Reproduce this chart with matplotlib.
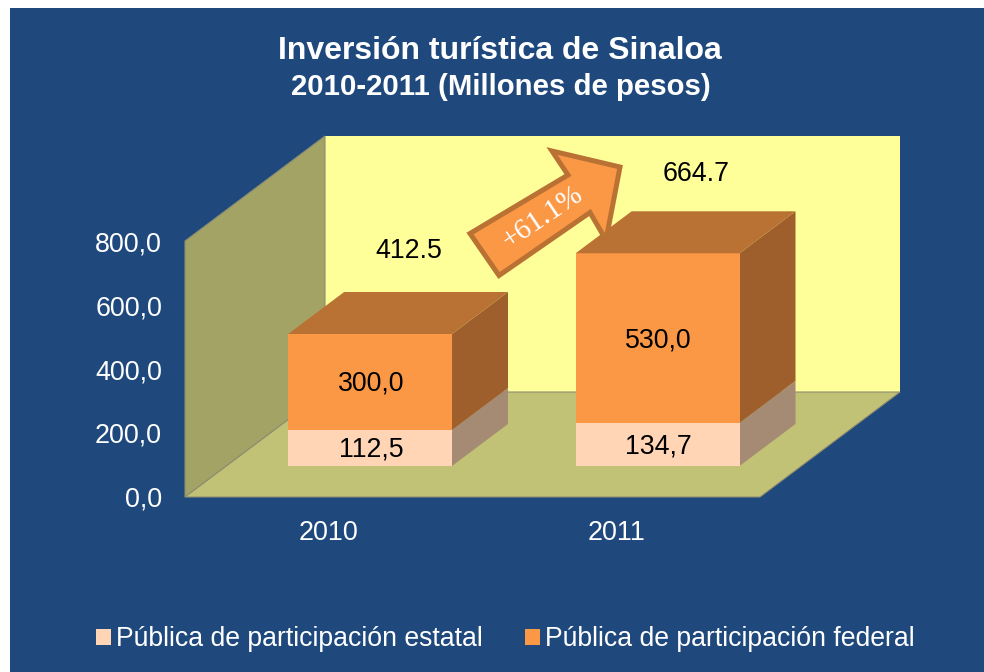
import matplotlib
matplotlib.use("Agg")
import matplotlib.pyplot as plt
from matplotlib.patches import Patch, Polygon, Rectangle
from matplotlib.transforms import Affine2D

years = ["2010", "2011"]
estatal = [112.5, 134.7]
federal = [300.0, 530.0]
totales = ["412.5", "664.7"]
yticks = [0, 200, 400, 600, 800]
series_names = ["Pública de participación estatal", "Pública de participación federal"]

W, H = 984, 672
plt.rcParams['font.family'] = ['Liberation Sans', 'DejaVu Sans']

BLUE = "#1F497D"
LIGHT = ("#FFD5B6", "#A58B73")
ORANGE = ("#FB9846", "#9F5F2D")
TOP = "#B97233"

fig = plt.figure(figsize=(W / 100, H / 100), dpi=100, facecolor="white")
px = Affine2D().scale(1 / W, -1 / H).translate(0, 1) + fig.transFigure

fig.add_artist(Rectangle((10, 8), W - 10, H - 8, transform=px, fc=BLUE, ec="none", zorder=-1))

# front plane of the 3d box: x 185-760, y 497-241 in pixels
ax = fig.add_axes([185 / W, 1 - 497 / H, 575 / W, 256 / H])
ax.patch.set_visible(False)
ax.set_xlim(0, 2)
ax.set_ylim(0, 800)
for s in ax.spines.values():
    s.set_visible(False)

dx = 140 / 287.5   # data units per full depth
dy = 105 / 0.32


def p(x, y, d):
    return (x + d * dx, y + d * dy)


def face(pts, color, z=1, **kw):
    ax.add_patch(Polygon(pts, closed=True, fc=color, ec=kw.pop("ec", "none"), lw=kw.pop("lw", 0),
                         zorder=z, clip_on=False, **kw))


# walls and floor
face([p(0, 0, 1), p(2, 0, 1), p(2, 800, 1), p(0, 800, 1)], "#FFFF99")
face([p(0, 0, 0), p(0, 0, 1), p(0, 800, 1), p(0, 800, 0)], "#A3A366", ec="#8C8C70", lw=0.8)
face([p(0, 0, 0), p(2, 0, 0), p(2, 0, 1), p(0, 0, 1)], "#C2C277", ec="#8C8C70", lw=0.8)

# bars
width = 0.57
d0, d1 = 31 / 105, 73 / 105
total_up = [83, 79]  # px above the bar top, the total labels sit freely
for i, year in enumerate(years):
    xc = i + 0.5
    x0, x1 = xc - width / 2, xc + width / 2
    bottom = 0
    for vals, cols in ((estatal, LIGHT), (federal, ORANGE)):
        y0, y1 = bottom, bottom + vals[i]
        face([p(x1, y0, d0), p(x1, y0, d1), p(x1, y1, d1), p(x1, y1, d0)], cols[1], 3)
        face([p(x0, y0, d0), p(x1, y0, d0), p(x1, y1, d0), p(x0, y1, d0)], cols[0], 4)
        ax.annotate(f"{vals[i]:.1f}".replace(".", ","), p(xc, (y0 + y1) / 2, d0), xytext=(0.7, -1.4),
                    textcoords="offset points", ha="center", va="center", fontsize=19.3,
                    color="black", zorder=6)
        bottom = y1
    face([p(x0, bottom, d0), p(x1, bottom, d0), p(x1, bottom, d1), p(x0, bottom, d1)], TOP, 4)
    ax.annotate(totales[i], p(xc, bottom, d0), xytext=(39 * 0.72, total_up[i] * 0.72), textcoords="offset points",
                ha="center", va="center", fontsize=19.3, color="black", zorder=6)

ax.set_xticks([0.5, 1.5], years)
ax.set_yticks(yticks, [f"{v:.1f}".replace(".", ",") for v in yticks], va="center_baseline")
ax.tick_params(axis="x", length=0, pad=16.5, labelsize=19.4, labelcolor="white")
ax.tick_params(axis="y", length=0, pad=16.5, labelsize=19.4, labelcolor="white")

# arrow
fig.add_artist(Polygon([(470, 233.5), (499, 275.5), (590, 212.5), (606, 240), (620, 167), (552, 151), (568, 175)],
                       closed=True, transform=px, fc="#FB9846", ec=TOP, lw=3.6, joinstyle="miter", zorder=5))
fig.text(543, 218, "+61.1%", transform=px, family="Liberation Serif", fontsize=21, color="white",
         rotation=34, ha="center", va="center", rotation_mode="anchor", zorder=6)

fig.text(500, 51, "Inversión turística de Sinaloa", transform=px, fontsize=23, fontweight="bold",
         color="white", ha="center", va="center")
fig.text(500.5, 87, "2010-2011 (Millones de pesos)", transform=px, fontsize=21.2, fontweight="bold",
         color="white", ha="center", va="center")

handles = [Patch(fc=LIGHT[0], ec="none"), Patch(fc=ORANGE[0], ec="none")]
fig.legend(handles, series_names, loc="center", bbox_to_anchor=(505.5 / W, 1 - 639 / H), ncol=2, frameon=False,
           fontsize=19.2, labelcolor="white", handlelength=0.55, handleheight=0.55, handletextpad=0.2,
           columnspacing=1.57)

fig.savefig("out.png", dpi=100, facecolor=fig.get_facecolor())
